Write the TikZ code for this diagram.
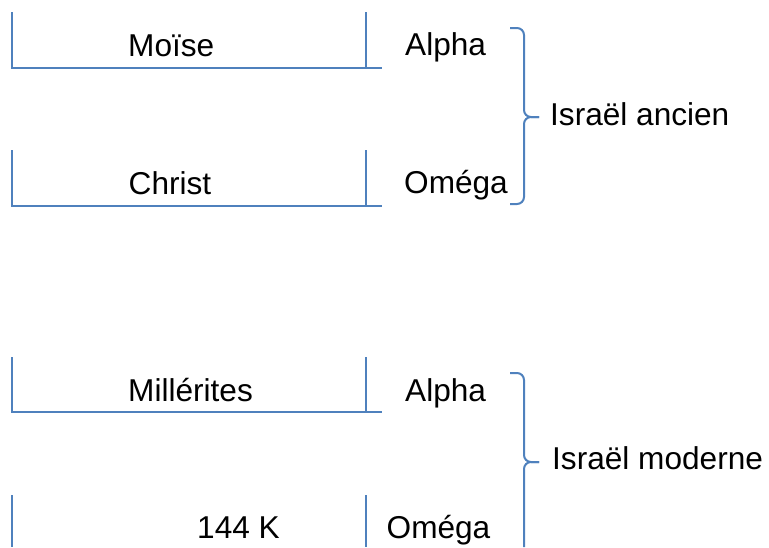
\documentclass[tikz,border=0pt]{standalone}
\usepackage{fontspec}
\setmainfont{Liberation Sans}
\usepackage{xcolor}
\definecolor{lblue}{RGB}{79,129,189}

\begin{document}
\begin{tikzpicture}[x=1pt,y=-1pt,
  bar/.style={draw=lblue,line width=2pt},
  brace/.style={bar,rounded corners=7pt},
  lbl/.style={anchor=base west,inner sep=0pt,font=\fontsize{31.6pt}{38pt}\selectfont},
]
\useasboundingbox (0,0) rectangle (769,547);
% bars
\draw[bar] (12,12) |- (382,68); \draw[bar] (366,12) -- (366,68);
\draw[bar] (12,150) |- (382,206); \draw[bar] (366,150) -- (366,206);
\draw[bar] (12,357) |- (382,412); \draw[bar] (366,357) -- (366,412);
\draw[bar] (12,495) -- (12,547); \draw[bar] (366,495) -- (366,547);
% labels
\node[lbl] (moise) at (128,56) {Moïse};
\node[lbl] (alphaA) at (405,55) {Alpha};
\node[lbl] (christ) at (128.5,194) {Christ};
\node[lbl] (omegaA) at (404,193) {Oméga};
\node[lbl] (miller) at (128,401) {Millérites};
\node[lbl] (alphaB) at (405,401) {Alpha};
\node[lbl] (kilo) at (197,538) {144 K};
\node[lbl] (omegaB) at (386.5,538) {Oméga};
% braces
\draw[brace] (510,28) -| (524,117) -- (539,117);
\draw[brace] (539,117) -- (524,117) |- (510,204);
\node[lbl] (ancien) at (550,125) {Israël ancien};
\draw[brace] (510,373) -| (524,462) -- (539,462);
\draw[brace] (539,462) -- (524,462) -- (524,547);
\node[lbl] (moderne) at (552,469) {Israël moderne};
\end{tikzpicture}
\end{document}
